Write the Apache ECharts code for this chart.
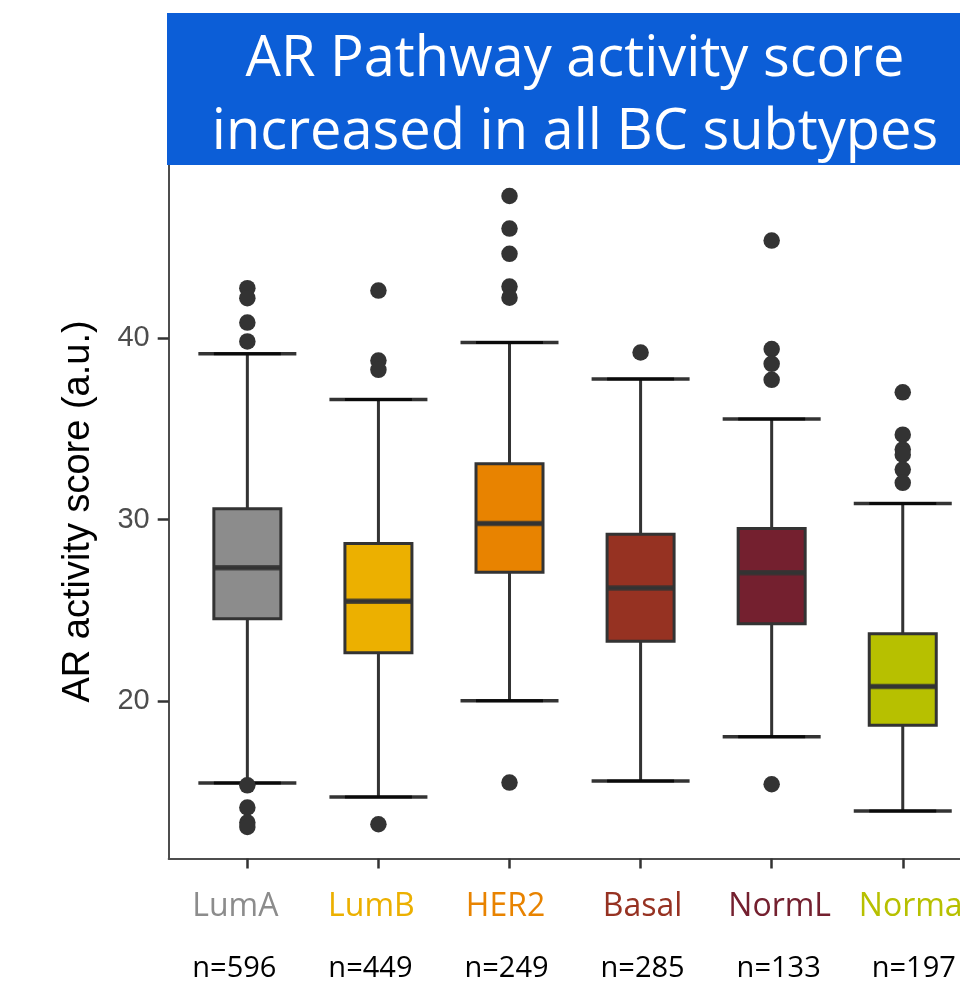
<!DOCTYPE html>
<html>
<head>
<meta charset="utf-8">
<title>AR Pathway activity score</title>
<script src="https://cdn.jsdelivr.net/npm/echarts@6/dist/echarts.min.js"></script>
<style>
    html, body { margin: 0; padding: 0; background: #fff; }
    #main { width: 960px; height: 987px; }
</style>
</head>
<body>
<div id="main"></div>
<script>
// subtypes on the x axis
let categories = ['LumA', 'LumB', 'HER2', 'Basal', 'NormL', 'Normal'];
let sampleSizes = [596, 449, 249, 285, 133, 197];
// [lower whisker, Q1, median, Q3, upper whisker]
let boxStats = [
    [15.51, 24.54, 27.35, 30.60, 39.12],
    [14.74, 22.67, 25.51, 28.68, 36.61],
    [20.04, 27.10, 29.78, 33.07, 39.74],
    [15.62, 23.31, 26.23, 29.19, 37.73],
    [18.06, 24.27, 27.07, 29.51, 35.53],
    [13.97, 18.68, 20.82, 23.72, 30.88]
];
// outlier points per subtype
let outliers = [
    [42.73, 42.18, 40.84, 39.80, 15.38, 14.16, 13.33, 13.09],
    [42.60, 38.75, 38.24, 13.24],
    [47.80, 46.01, 44.62, 42.82, 42.21, 15.53],
    [39.19],
    [45.35, 39.38, 38.57, 37.69, 15.44],
    [37.00, 34.67, 33.85, 33.57, 32.75, 32.02]
];
let yTicks = [20, 30, 40];

let subtypeColors = ['#8c8c8c', '#ecb000', '#e88300', '#963222', '#74202f', '#b7c000'];
// the labels under the axis were placed by hand in the original, not exactly on the ticks (px, + = right)
let nameShift = [-12, -7, -4, 2, 8, 12];
let countShift = [-13, -8, -3, 2, 7, 11];
let labelFont = '"Open Sans", Lato, sans-serif';
let axisFont = '"Liberation Sans", Arial, Helvetica, sans-serif';
let catIdx = categories.map((c, i) => i);

let chart = echarts.init(document.getElementById('main'), null, { renderer: 'canvas' });

// box data with explicit x (value axis, so ggplot-like 0.6 padding is possible)
let boxData = boxStats.map((s, i) => ({
    value: [i].concat(s),
    itemStyle: { color: subtypeColors[i] }
}));
let capData = [];
boxStats.forEach((s, i) => {
    capData.push([i, s[0]]);
    capData.push([i, s[4]]);
});
let medianData = boxStats.map((s, i) => [i, s[2]]);
let outlierData = [];
outliers.forEach((arr, i) => {
    arr.forEach(v => outlierData.push([i, v]));
});

// shift a centered label by padding one side
function shiftPad(d) {
    return d < 0 ? [0, -2 * d, 0, 0] : [0, 0, 0, 2 * d];
}
let nameRich = {};
let countRich = {};
categories.forEach((c, i) => {
    nameRich['c' + i] = {
        color: subtypeColors[i],
        fontSize: 32,
        fontFamily: labelFont,
        padding: shiftPad(nameShift[i])
    };
    countRich['c' + i] = {
        color: '#000',
        fontSize: 29,
        fontFamily: labelFont,
        padding: shiftPad(countShift[i])
    };
});

let option = {
    animation: false,
    backgroundColor: '#fff',
    grid: {
        left: 168.7,
        top: 164.4,
        width: 812.7,
        height: 694.2,
        outerBoundsMode: 'none',
        containLabel: false
    },
    xAxis: [
        {
            type: 'value',
            min: -0.6,
            max: 5.6,
            splitLine: { show: false },
            axisLine: { show: true, onZero: false, lineStyle: { color: '#4d4d4d', width: 2 } },
            axisTick: {
                show: true,
                customValues: catIdx,
                length: 10,
                lineStyle: { color: '#333', width: 2.5 }
            },
            axisLabel: {
                customValues: catIdx,
                margin: 32,
                formatter: v => '{c' + v + '|' + categories[v] + '}',
                rich: nameRich
            }
        },
        {
            type: 'value',
            min: -0.6,
            max: 5.6,
            position: 'bottom',
            splitLine: { show: false },
            axisLine: { show: false, onZero: false },
            axisTick: { show: false },
            axisLabel: {
                customValues: catIdx,
                margin: 96,
                formatter: v => '{c' + v + '|n=' + sampleSizes[v] + '}',
                rich: countRich
            }
        }
    ],
    yAxis: {
        type: 'value',
        min: 11.35,
        max: 49.54,
        name: 'AR activity score (a.u.)',
        nameLocation: 'middle',
        nameRotate: 90,
        nameGap: 71,
        nameTextStyle: { fontSize: 38, color: '#000', fontFamily: axisFont },
        splitLine: { show: false },
        axisLine: { show: true, onZero: false, lineStyle: { color: '#4d4d4d', width: 2 } },
        axisTick: {
            show: true,
            customValues: yTicks,
            length: 11,
            lineStyle: { color: '#333', width: 2.5 }
        },
        axisLabel: {
            customValues: yTicks,
            margin: 19,
            fontSize: 29,
            color: '#4d4d4d',
            fontFamily: axisFont
        }
    },
    series: [
        {
            name: 'box',
            type: 'boxplot',
            data: boxData,
            boxWidth: [67, 67],
            itemStyle: { borderColor: '#333', borderWidth: 3 },
            emphasis: { disabled: true }
        },
        {
            name: 'median',
            type: 'scatter',
            data: medianData,
            symbol: 'rect',
            symbolSize: [67, 5.5],
            itemStyle: { color: '#333' },
            silent: true
        },
        {
            name: 'caps',
            type: 'scatter',
            data: capData,
            symbol: 'rect',
            symbolSize: [98, 3.5],
            itemStyle: { color: '#000' },
            silent: true
        },
        {
            name: 'outliers',
            type: 'scatter',
            data: outlierData,
            symbolSize: 16.5,
            itemStyle: { color: '#333', opacity: 1 },
            silent: true
        }
    ],
    graphic: [
        {
            type: 'rect',
            z: 100,
            shape: { x: 167, y: 13, width: 830, height: 152 },
            style: { fill: '#0c5ed7' }
        },
        {
            type: 'text',
            z: 101,
            x: 575,
            y: 96.5,
            style: {
                text: 'AR Pathway activity score\nincreased in all BC subtypes',
                fill: '#fff',
                font: '56px ' + labelFont,
                lineHeight: 73,
                textAlign: 'center',
                textVerticalAlign: 'middle'
            }
        }
    ]
};

chart.setOption(option);
</script>
</body>
</html>
